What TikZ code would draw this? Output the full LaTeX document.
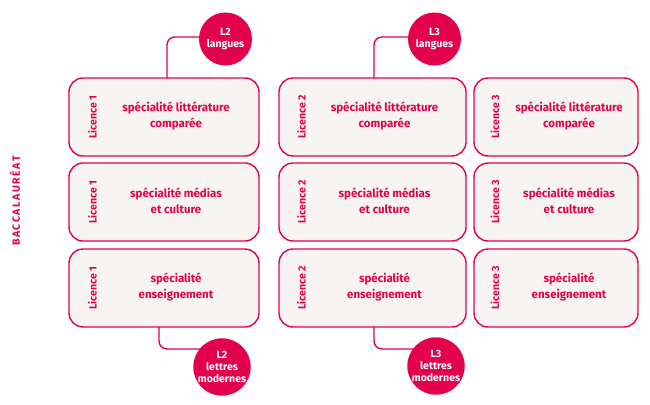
\documentclass[tikz,border=0pt]{standalone}
\usepackage{fontspec}
\setmainfont{Fira Sans}
\definecolor{crim}{HTML}{E2004F}
\definecolor{boxbg}{HTML}{F7F4F1}
\begin{document}
\begin{tikzpicture}[x=1pt,y=-1pt,
 card/.style={draw=crim, line width=1.4pt, fill=boxbg, rounded corners=14pt, minimum height=78pt, inner sep=0pt},
 main/.style={text=crim, font=\bfseries\fontsize{11.5}{15.5}\selectfont, align=center},
 lic/.style={text=crim, font=\bfseries\fontsize{10.5}{12}\selectfont, rotate=90},
 badge/.style={circle, fill=crim, text=white, minimum size=53pt, inner sep=0pt, align=center, font=\bfseries\fontsize{10.5}{12}\selectfont},
 conn/.style={draw=crim, line width=1.4pt, rounded corners=8pt}]
\useasboundingbox (0,0) rectangle (650,404);

% column 1
\node[card, minimum width=190pt] (b11) at (164,117) {};
\node[card, minimum width=190pt] (b21) at (164,202) {};
\node[card, minimum width=190pt] (b31) at (164,288) {};
% column 2
\node[card, minimum width=187pt] (b12) at (372.5,117) {};
\node[card, minimum width=187pt] (b22) at (372.5,202) {};
\node[card, minimum width=187pt] (b32) at (372.5,288) {};
% column 3
\node[card, minimum width=164pt] (b13) at (556,117) {};
\node[card, minimum width=164pt] (b23) at (556,202) {};
\node[card, minimum width=164pt] (b33) at (556,288) {};

% labels
\node[lic] (l11) at (92.5,117) {Licence 1};
\node[lic] (l21) at (92.5,202) {Licence 1};
\node[lic] (l31) at (92.5,288) {Licence 1};
\node[lic] (l12) at (301.5,117) {Licence 2};
\node[lic] (l22) at (301.5,202) {Licence 2};
\node[lic] (l32) at (301.5,288) {Licence 2};
\node[lic] (l13) at (495,117) {Licence 3};
\node[lic] (l23) at (495,202) {Licence 3};
\node[lic] (l33) at (495,288) {Licence 3};

% main texts
\node[main] (t11) at (176,116) {spécialité littérature\\comparée};
\node[main] (t21) at (176,201) {spécialité médias\\et culture};
\node[main] (t31) at (176,287) {spécialité\\enseignement};
\node[main] (t12) at (384.5,116) {spécialité littérature\\comparée};
\node[main] (t22) at (384.5,201) {spécialité médias\\et culture};
\node[main] (t32) at (384.5,287) {spécialité\\enseignement};
\node[main] (t13) at (569,116) {spécialité littérature\\comparée};
\node[main] (t23) at (569,201) {spécialité médias\\et culture};
\node[main] (t33) at (569,287) {spécialité\\enseignement};

% side label
\node[rotate=90, text=crim, font=\bfseries\fontsize{10.5}{12}\selectfont\addfontfeatures{LetterSpace=15}] (bac) at (15,201) {BACCALAURÉAT};

% connector anchor points
\coordinate (c1t) at (167,78);
\coordinate (c1b) at (159,327);
\coordinate (c2t) at (374,78);
\coordinate (c2b) at (374,327);
\coordinate (h1t) at (215,37);
\coordinate (h2t) at (420,37);
\coordinate (h1b) at (210,349);
\coordinate (h2b) at (425,349);

\draw[conn] (c1t) |- (h1t);
\draw[conn] (c2t) |- (h2t);
\draw[conn] (c1b) |- (h1b);
\draw[conn] (c2b) |- (h2b);

% badges
\node[badge] (l2lang) at (225.5,39) {L2\\langues};
\node[badge] (l3lang) at (434.5,39) {L3\\langues};
\node[badge, minimum size=55pt] (l2lm) at (222,367) {L2\\lettres\\modernes};
\node[badge, minimum size=55pt] (l3lm) at (436,366) {L3\\lettres\\modernes};
\end{tikzpicture}
\end{document}
